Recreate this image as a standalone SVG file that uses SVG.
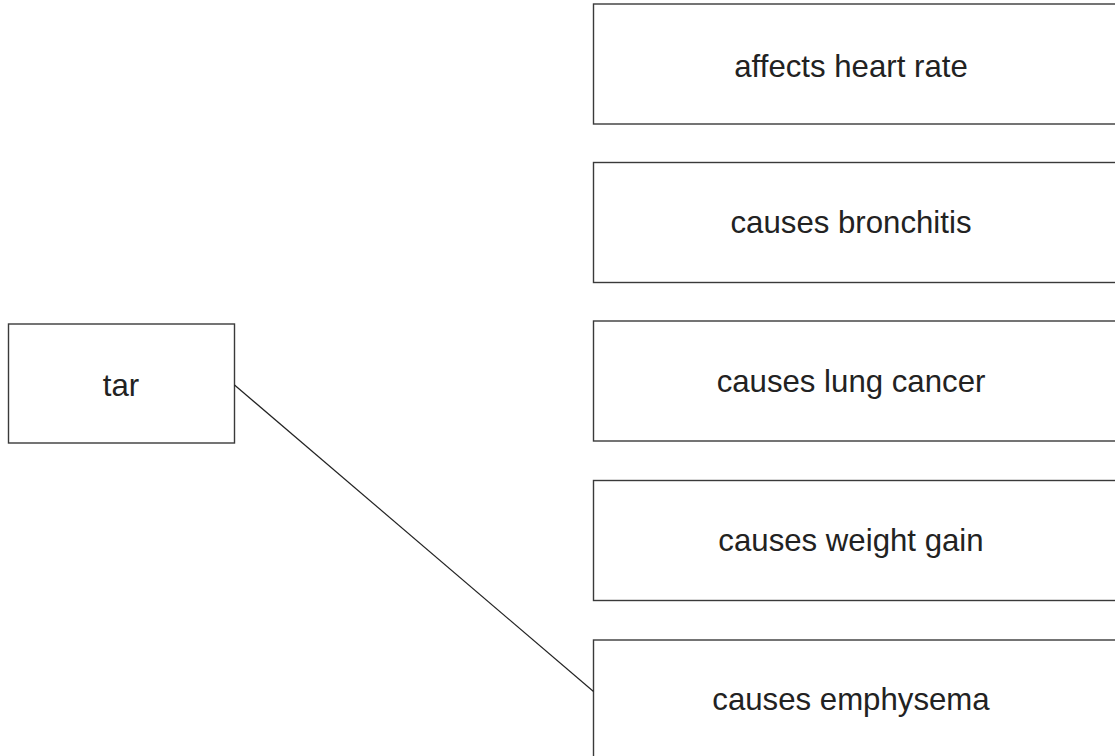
<svg xmlns="http://www.w3.org/2000/svg" width="1115" height="756" viewBox="0 0 1115 756">
<style>
.box{fill:#fff;stroke:#3a3a3a;stroke-width:1.4}
.lbl{font-family:"Liberation Sans",Arial,sans-serif;font-size:31.2px;fill:#222;text-anchor:middle}
.conn{stroke:#222;stroke-width:1.2;fill:none}
</style>
<rect width="1115" height="756" fill="#fff"/>
<g id="node-tar"><rect class="box" x="8.5" y="324" width="226" height="119"/><text class="lbl" x="121" y="396">tar</text></g>
<g id="node-heart"><rect class="box" x="593.5" y="4" width="530" height="120"/><text class="lbl" x="851" y="77">affects heart rate</text></g>
<g id="node-bronchitis"><rect class="box" x="593.5" y="162.5" width="530" height="120"/><text class="lbl" x="851" y="233">causes bronchitis</text></g>
<g id="node-lung"><rect class="box" x="593.5" y="321" width="530" height="120"/><text class="lbl" x="851" y="392">causes lung cancer</text></g>
<g id="node-weight"><rect class="box" x="593.5" y="480.5" width="530" height="120"/><text class="lbl" x="851" y="551">causes weight gain</text></g>
<g id="node-emphysema"><rect class="box" x="593.5" y="640" width="530" height="130"/><text class="lbl" x="851" y="710">causes emphysema</text></g>
<g id="connectors"><line class="conn" x1="234.5" y1="385" x2="593.5" y2="691.5"/></g>
</svg>
